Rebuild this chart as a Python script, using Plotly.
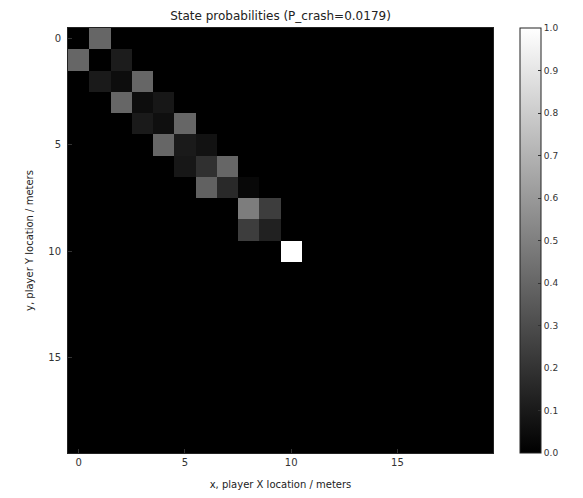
import plotly.graph_objects as go

# Non-zero state probabilities: (row = y, col = x, value)
cell_y = [0, 1, 1, 2, 2, 2, 3, 3, 3, 4, 4, 4, 5, 5, 5, 6, 6, 6, 7, 7, 7, 8, 8, 9, 9, 10]
cell_x = [1, 0, 2, 1, 2, 3, 2, 3, 4, 3, 4, 5, 4, 5, 6, 5, 6, 7, 6, 7, 8, 8, 9, 8, 9, 10]
cell_p = [0.40, 0.40, 0.11, 0.10, 0.05, 0.40, 0.40, 0.05, 0.09, 0.10, 0.06, 0.40,
          0.40, 0.10, 0.07, 0.09, 0.19, 0.40, 0.38, 0.16, 0.03, 0.49, 0.24, 0.24, 0.13, 1.00]
grid_n = 20
title_text = "State probabilities (P_crash=0.0179)"
x_label = "x, player X location / meters"
y_label = "y, player Y location / meters"
tick_vals = [0, 5, 10, 15]
cbar_ticks = [0.0, 0.1, 0.2, 0.3, 0.4, 0.5, 0.6, 0.7, 0.8, 0.9, 1.0]

z = [[0.0] * grid_n for _ in range(grid_n)]
for r, c, p in zip(cell_y, cell_x, cell_p):
    z[r][c] = p

# page coordinates are offset by the 8px body margin
W, H = 575, 482
L, R, T, B = 60, 485, 20, 445
PW, PH = R - L, B - T

fig = go.Figure(go.Heatmap(
    z=z,
    x=list(range(grid_n)),
    y=list(range(grid_n)),
    colorscale=[[0, "#000000"], [1, "#ffffff"]],
    zmin=0, zmax=1,
    colorbar=dict(
        x=(512 - L) / PW, xanchor="left",
        y=1.0, yanchor="top",
        lenmode="pixels", len=PH,
        thickness=21, thicknessmode="pixels",
        outlinecolor="#222", outlinewidth=1,
        tickvals=cbar_ticks,
        ticktext=[f"{v:.1f}" for v in cbar_ticks],
        ticks="inside", ticklen=3, tickcolor="#333",
        tickfont=dict(family="DejaVu Sans", size=9, color="#333"),
        xpad=0, ypad=0,
    ),
    hoverinfo="skip",
))

fig.update_layout(
    width=W, height=H,
    margin=dict(l=L, r=W - R, t=T, b=H - B, pad=0, autoexpand=False),
    paper_bgcolor="white", plot_bgcolor="black",
    font=dict(family="DejaVu Sans", color="#222"),
    title=dict(text=title_text, x=(L + R) / 2 / W, xanchor="center",
               y=1 - 8 / H, yanchor="middle",
               font=dict(size=12, family="DejaVu Sans", color="#222")),
    xaxis=dict(
        range=[-0.5, grid_n - 0.5], tickvals=tick_vals,
        ticks="inside", ticklen=4, tickcolor="#333",
        showgrid=False, zeroline=False, showline=True, linecolor="#222", mirror=True,
        tickfont=dict(size=10, color="#333"),
        title=dict(text=x_label, font=dict(size=10), standoff=15),
    ),
    yaxis=dict(
        range=[grid_n - 0.5, -0.5], tickvals=tick_vals,
        ticks="inside", ticklen=4, tickcolor="#333",
        showgrid=False, zeroline=False, showline=True, linecolor="#222", mirror=True,
        tickfont=dict(size=10, color="#333"), ticklabelstandoff=4,
        title=dict(text=y_label, font=dict(size=10), standoff=12),
    ),
)

fig.write_html("out.html")
